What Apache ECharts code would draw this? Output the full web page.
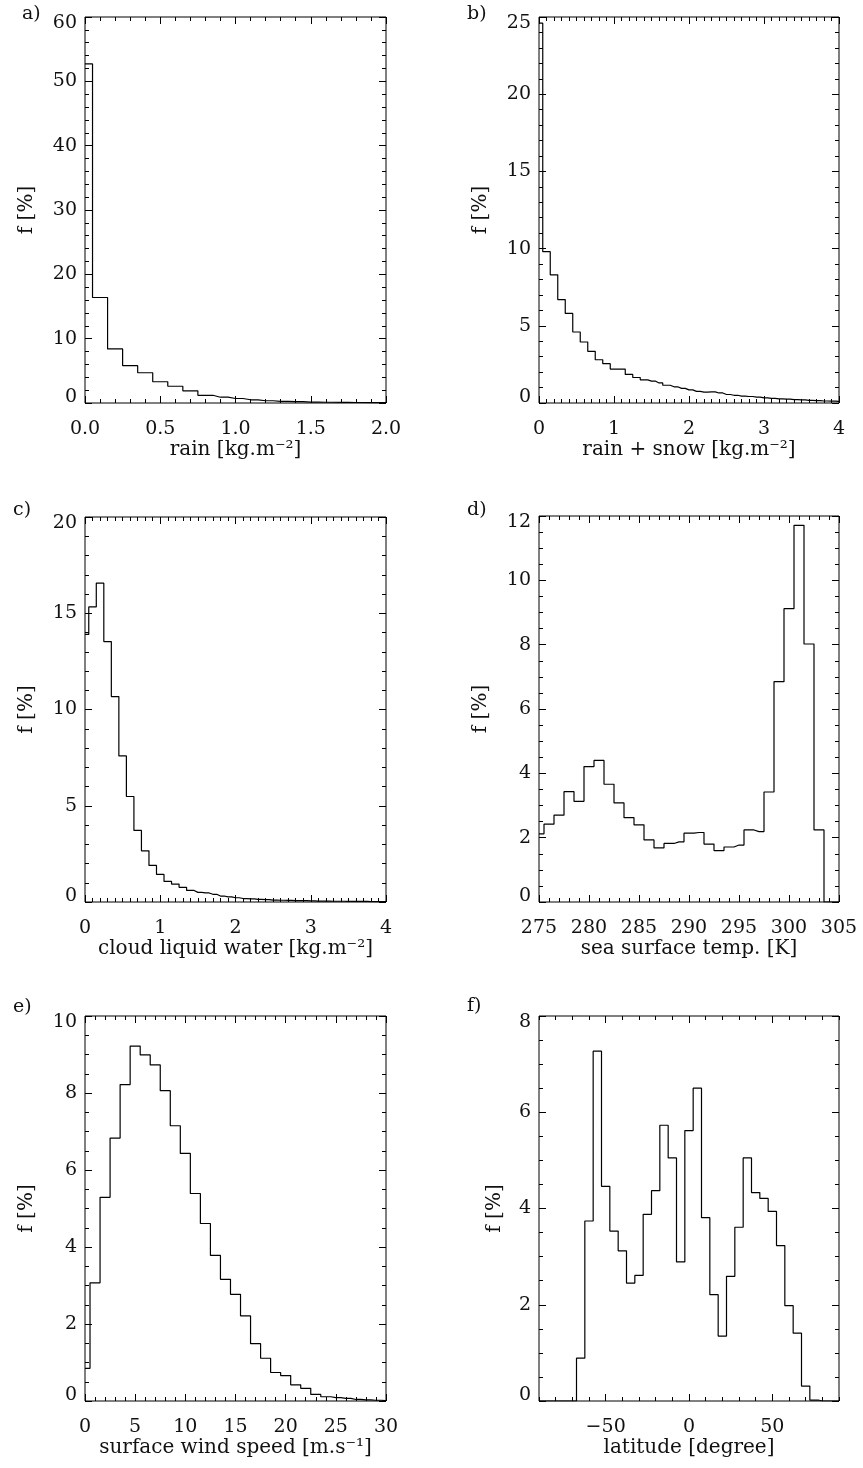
<!DOCTYPE html>
<html>
<head>
<meta charset="utf-8">
<script src="https://cdn.jsdelivr.net/npm/echarts@6/dist/echarts.min.js"></script>
<style>
html,body{margin:0;padding:0;background:#fff;}
#chart{width:863px;height:1468px;}
</style>
</head>
<body>
<div id="chart"></div>
<script>
// ---------------- DATA (bin centres and frequencies in %) ----------------
const rainBins = [0.0,0.1,0.2,0.3,0.4,0.5,0.6,0.7,0.8,0.9,1.0,1.1,1.2,1.3,1.4,1.5,1.6,1.7,1.8,1.9,2.0];
const rainFreq = [52.7,16.4,8.4,5.8,4.7,3.3,2.6,1.9,1.2,0.9,0.7,0.5,0.35,0.25,0.2,0.15,0.12,0.1,0.08,0.06,0.05];

const rainSnowBins = [0.0,0.1,0.2,0.3,0.4,0.5,0.6,0.7,0.8,0.9,1.0,1.1,1.2,1.3,1.4,1.5,1.6,1.7,1.8,1.9,2.0,
  2.1,2.2,2.3,2.4,2.5,2.6,2.7,2.8,2.9,3.0,3.1,3.2,3.3,3.4,3.5,3.6,3.7,3.8,3.9,4.0];
const rainSnowFreq = [24.6,9.8,8.3,6.7,5.8,4.6,3.95,3.35,2.8,2.55,2.2,2.2,1.85,1.65,1.5,1.42,1.3,1.15,1.05,0.95,0.85,
  0.75,0.7,0.72,0.65,0.55,0.5,0.45,0.42,0.38,0.33,0.3,0.27,0.25,0.22,0.2,0.17,0.15,0.13,0.12,0.1];

const cloudBins = [0.0,0.1,0.2,0.3,0.4,0.5,0.6,0.7,0.8,0.9,1.0,1.1,1.2,1.3,1.4,1.5,1.6,1.7,1.8,1.9,2.0,
  2.1,2.2,2.3,2.4,2.5,2.6,2.7,2.8,2.9,3.0,3.1,3.2,3.3,3.4,3.5,3.6,3.7,3.8,3.9,4.0];
const cloudFreq = [13.9,15.33,16.56,13.53,10.67,7.59,5.48,3.72,2.66,1.9,1.43,1.07,0.93,0.76,0.6,0.5,0.47,0.4,0.31,0.27,0.22,
  0.18,0.16,0.14,0.12,0.1,0.09,0.08,0.07,0.07,0.06,0.05,0.05,0.04,0.04,0.03,0.03,0.03,0.02,0.02,0.02];

const sstBins = [275,276,277,278,279,280,281,282,283,284,285,286,287,288,289,290,291,292,293,294,295,296,297,298,299,300,301,302,303,304,305];
const sstFreq = [2.12,2.42,2.7,3.43,3.13,4.21,4.4,3.66,3.08,2.62,2.4,1.93,1.68,1.82,1.87,2.14,2.16,1.8,1.6,1.71,1.77,2.24,2.19,3.42,6.85,9.12,11.71,8.02,2.24,0,0];

const windBins = [0,1,2,3,4,5,6,7,8,9,10,11,12,13,14,15,16,17,18,19,20,21,22,23,24,25,26,27,28,29,30];
const windFreq = [0.85,3.07,5.29,6.83,8.22,9.22,8.99,8.73,8.06,7.15,6.43,5.39,4.61,3.78,3.16,2.77,2.21,1.49,1.11,0.74,0.66,0.42,0.33,0.17,0.11,0.09,0.07,0.04,0.03,0.02,0.01];

const latBins = [-90,-85,-80,-75,-70,-65,-60,-55,-50,-45,-40,-35,-30,-25,-20,-15,-10,-5,0,5,10,15,20,25,30,35,40,45,50,55,60,65,70,75,80,85,90];
const latFreq = [0,0,0,0,0,0.89,3.74,7.27,4.46,3.53,3.12,2.45,2.61,3.88,4.37,5.73,5.05,2.89,5.62,6.5,3.81,2.21,1.35,2.59,3.61,5.05,4.33,4.21,3.94,3.23,1.98,1.41,0.31,0.02,0,0,0];

const panelLetters = ['a)','b)','c)','d)','e)','f)'];
const xTitles = ['rain [kg.m\u207B\u00B2]','rain + snow [kg.m\u207B\u00B2]','cloud liquid water [kg.m\u207B\u00B2]',
  'sea surface temp. [K]','surface wind speed [m.s\u207B\u00B9]','latitude [degree]'];
const yTitle = 'f [%]';
const latMajorTicks = [-50,0,50];

// ---------------- LAYOUT / STYLE ----------------
const FONT = 'DejaVu Serif';
const TXT = '#111';
const panels = [
  {bins: rainBins, freq: rainFreq, grid:{left:85, top:17, width:301, height:386},
   x:{min:0,max:2,interval:0.5,minor:5,dec:1}, y:{min:0,max:60,interval:10,minor:5}, yGap:48, letter:[22,16]},
  {bins: rainSnowBins, freq: rainSnowFreq, grid:{left:539, top:17, width:300, height:386},
   x:{min:0,max:4,interval:1,minor:10,dec:0}, y:{min:0,max:25,interval:5,minor:5}, yGap:48, letter:[467,16]},
  {bins: cloudBins, freq: cloudFreq, grid:{left:85, top:517, width:301, height:385},
   x:{min:0,max:4,interval:1,minor:10,dec:0}, y:{min:0,max:20,interval:5,minor:5}, yGap:48, letter:[13,512]},
  {bins: sstBins, freq: sstFreq, grid:{left:539, top:516, width:300, height:386},
   x:{min:275,max:305,interval:5,minor:5,dec:0}, y:{min:0,max:12,interval:2,minor:4}, yGap:48, letter:[467,512]},
  {bins: windBins, freq: windFreq, grid:{left:85, top:1016, width:301, height:385},
   x:{min:0,max:30,interval:5,minor:5,dec:0}, y:{min:0,max:10,interval:2,minor:4}, yGap:48, letter:[13,1009]},
  {bins: latBins, freq: latFreq, grid:{left:539, top:1016, width:300, height:385},
   x:{min:-90,max:90,interval:10,minor:0,dec:0,custom:latMajorTicks}, y:{min:0,max:8,interval:2,minor:4}, yGap:34, letter:[467,1008]}
];

const grids = [], xAxes = [], yAxes = [], series = [], graphics = [];
const MAJ = 7, MIN = 4;
const labelStyle = {fontFamily: FONT, fontSize: 19, color: TXT};
const nameStyle = {fontFamily: FONT, fontSize: 20, color: TXT};
const noLine = {show:false, onZero:false};

function fmt(dec){ return v => { const s = Number(v).toFixed(dec); return s.replace('-', '\u2212'); }; }

panels.forEach((p, i) => {
  grids.push(Object.assign({show:true, borderColor:'#000', borderWidth:1, containLabel:false}, p.grid));
  const tickBase = {show:true, inside:true, lineStyle:{color:'#000', width:1}};
  const minorX = {show:true, splitNumber:p.x.minor, length:MIN, lineStyle:{color:'#000', width:1}};
  const minorY = {show:true, splitNumber:p.y.minor, length:MIN, lineStyle:{color:'#000', width:1}};
  const isLat = !!p.x.custom;
  // bottom main x axis
  const xi = xAxes.length;
  xAxes.push({
    type:'value', gridIndex:i, position:'bottom', min:p.x.min, max:p.x.max, interval:p.x.interval,
    axisLine:noLine, splitLine:{show:false},
    axisTick: Object.assign({}, tickBase, {length: isLat ? MIN : MAJ}),
    minorTick: isLat ? {show:false} : minorX,
    axisLabel: Object.assign({margin:17, formatter: fmt(p.x.dec), showMinLabel:true, showMaxLabel:true},
      isLat ? {customValues: p.x.custom} : {}, labelStyle),
    name: xTitles[i], nameLocation:'middle', nameGap:35,
    nameTextStyle: nameStyle
  });
  // top mirror
  xAxes.push({
    type:'value', gridIndex:i, position:'top', min:p.x.min, max:p.x.max, interval:p.x.interval,
    axisLine:noLine, splitLine:{show:false}, axisLabel:{show:false},
    axisTick: Object.assign({}, tickBase, {length: isLat ? MIN : MAJ}),
    minorTick: isLat ? {show:false} : minorX
  });
  if (isLat) {
    ['bottom','top'].forEach(pos => xAxes.push({
      type:'value', gridIndex:i, position:pos, min:p.x.min, max:p.x.max, interval:p.x.interval,
      axisLine:noLine, splitLine:{show:false}, axisLabel:{show:false},
      axisTick: Object.assign({}, tickBase, {length: MAJ, customValues: p.x.custom})
    }));
  }
  // left main y axis
  const yi = yAxes.length;
  yAxes.push({
    type:'value', gridIndex:i, position:'left', min:p.y.min, max:p.y.max, interval:p.y.interval,
    axisLine:noLine, splitLine:{show:false},
    axisTick: Object.assign({}, tickBase, {length: MAJ}),
    minorTick: minorY,
    axisLabel: Object.assign({margin:8, showMinLabel:true, showMaxLabel:true, lineHeight:12,
      verticalAlignMinLabel:'bottom', verticalAlignMaxLabel:'top'}, labelStyle),
    name: yTitle, nameLocation:'middle', nameRotate:90, nameGap:p.yGap,
    nameTextStyle: nameStyle
  });
  yAxes.push({
    type:'value', gridIndex:i, position:'right', min:p.y.min, max:p.y.max, interval:p.y.interval,
    axisLine:noLine, splitLine:{show:false}, axisLabel:{show:false},
    axisTick: Object.assign({}, tickBase, {length: MAJ}),
    minorTick: minorY
  });
  series.push({
    type:'line', xAxisIndex:xi, yAxisIndex:yi, step:'middle', showSymbol:false, symbol:'none',
    data: p.bins.map((b, j) => [b, p.freq[j]]),
    lineStyle:{color:'#000', width:1.2}, silent:true, animation:false, clip:true
  });
  graphics.push({type:'text', left:p.letter[0], top:p.letter[1]-11,
    style:{text:panelLetters[i], font:'19px "' + FONT + '"', fill:TXT}});
});

const chart = echarts.init(document.getElementById('chart'), null, {renderer:'canvas'});
chart.setOption({
  animation:false,
  backgroundColor:'#fff',
  grid: grids, xAxis: xAxes, yAxis: yAxes, series: series, graphic: graphics
});
</script>
</body>
</html>
